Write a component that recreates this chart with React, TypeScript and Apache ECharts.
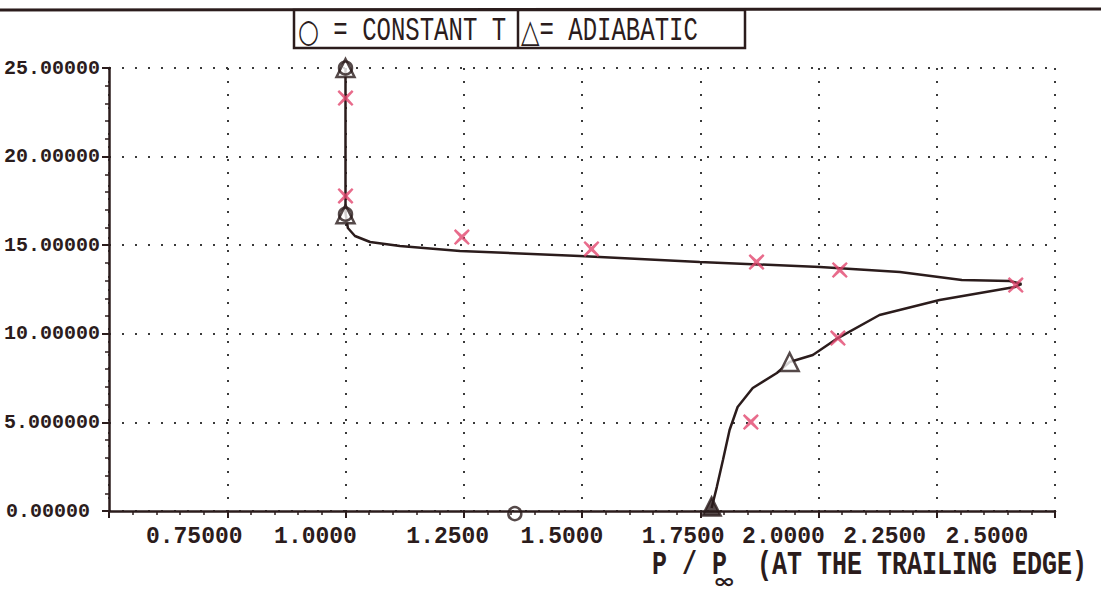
import React, { useEffect, useRef } from "react";
import * as echarts from "echarts";

// Computed curve: p/p_inf along the trailing edge (x) against the plotted quantity (y)
const curveX = [1.0, 1.0, 1.005, 1.02, 1.052, 1.115, 1.242, 1.495, 1.749, 2.003, 2.172, 2.303, 2.404, 2.429,
  2.415, 2.256, 2.129, 2.041, 1.988, 1.939, 1.912, 1.861, 1.829, 1.812, 1.798, 1.785, 1.774];
const curveY = [25.0, 16.82, 15.97, 15.52, 15.18, 14.95, 14.67, 14.39, 14.05, 13.77, 13.49, 13.04, 12.98, 12.81,
  12.64, 11.91, 11.06, 9.76, 8.8, 8.41, 7.79, 6.94, 5.87, 4.57, 2.88, 1.35, 0.17];

// Measured points (crosses)
const crossX = [1.0, 1.0, 1.246, 1.52, 1.869, 2.045, 2.417, 2.041, 1.857];
const crossY = [23.3, 17.78, 15.46, 14.79, 14.05, 13.6, 12.75, 9.76, 5.02];

// Adiabatic wall (triangles)
const triX = [1.0, 1.0, 1.939, 1.774];
const triY = [25.0, 16.75, 8.41, 0.25];

// Constant-temperature wall (circles)
const circX = [1.0, 1.0, 1.358];
const circY = [25.0, 16.75, -0.15];

// Tick labels
const xTickValues = [0.75, 1.0, 1.25, 1.5, 1.75, 2.0, 2.25, 2.5];
const xTickLabels = ["0.75000", "1.0000", "1.2500", "1.5000", "1.7500", "2.0000", "2.2500", "2.5000"];
const yTickValues = [0, 5, 10, 15, 20, 25];
const yTickLabels = ["0.00000", "5.000000", "10.00000", "15.00000", "20.00000", "25.00000"];

// horizontal nudge (px, leftwards) of each x tick label, as the plotter placed them
const xLabelShift = [33, 30, 16, 20, 17, 35, 52, 68];

const INK = "#2b1c1c";
const PINK = "#e2466e";
const MONO = "'Liberation Mono', 'DejaVu Sans Mono', monospace";
const CROSS = "path://M1,0L5,3.6L9,0L10,1L6.4,5L10,9L9,10L5,6.4L1,10L0,9L3.6,5L0,1Z";

export default function App() {
  const ref = useRef<HTMLDivElement>(null);

  useEffect(() => {
    if (!ref.current) return;
    const chart = echarts.init(ref.current, undefined, { renderer: "svg" });

    const xRich: Record<string, any> = {};
    xLabelShift.forEach((s, i) => {
      xRich["s" + i] = {
        fontFamily: MONO,
        fontWeight: "bold",
        fontSize: 23,
        color: INK,
        padding: [0, s * 2, 0, 0],
      };
    });

    const curve = curveX.map((x, i) => [x, curveY[i]]);
    const crosses = crossX.map((x, i) => [x, crossY[i]]);
    const tris = triX.map((x, i) => {
      const item: any = { value: [x, triY[i]] };
      if (triY[i] < 1) item.itemStyle = { color: INK };
      return item;
    });
    const circs = circX.map((x, i) => [x, circY[i]]);

    const legendRich = {
      t: { fontFamily: MONO, fontSize: 24, color: INK },
      c: { fontFamily: "'DejaVu Sans', sans-serif", fontSize: 24, color: INK },
    };

    chart.setOption({
      animation: false,
      backgroundColor: "#ffffff",
      grid: { left: 109, right: 46, top: 68, bottom: 85, containLabel: false, outerBoundsMode: "none" },
      xAxis: {
        type: "value",
        min: 0.5,
        max: 2.5,
        interval: 0.25,
        axisLine: { show: true, onZero: false, lineStyle: { color: INK, width: 2.5 } },
        axisTick: { show: true, length: 7, lineStyle: { color: INK, width: 2 } },
        minorTick: { show: true, splitNumber: 5, length: 4, lineStyle: { color: INK, width: 1.5 } },
        splitLine: { show: true, lineStyle: { color: "#3a3a3a", width: 2, type: [2, 11] } },
        axisLabel: {
          margin: 14,
          formatter: (v: number) => {
            const i = xTickValues.findIndex((t) => Math.abs(t - v) < 1e-6);
            return i < 0 ? "" : "{s" + i + "|" + xTickLabels[i] + "}";
          },
          rich: xRich,
        },
      },
      yAxis: {
        type: "value",
        min: 0,
        max: 25,
        interval: 5,
        axisLine: { show: true, onZero: false, lineStyle: { color: INK, width: 2.5 } },
        axisTick: { show: true, length: 7, lineStyle: { color: INK, width: 2 } },
        minorTick: { show: true, splitNumber: 5, length: 4, lineStyle: { color: INK, width: 1.5 } },
        splitLine: { show: true, lineStyle: { color: "#3a3a3a", width: 2, type: [2, 11] } },
        axisLabel: {
          margin: 9,
          formatter: (v: number) => {
            const i = yTickValues.findIndex((t) => Math.abs(t - v) < 1e-6);
            if (i < 0) return "";
            return (i === 0 ? "{z|" : "{n|") + yTickLabels[i] + "}";
          },
          rich: {
            n: { fontFamily: MONO, fontWeight: "bold", fontSize: 20, color: INK },
            z: { fontFamily: MONO, fontWeight: "bold", fontSize: 20, color: INK, padding: [0, 10, 0, 0] },
          },
        },
      },
      series: [
        {
          type: "line",
          data: curve,
          symbol: "none",
          clip: false,
          lineStyle: { color: INK, width: 2.5 },
          z: 2,
        },
        {
          type: "scatter",
          data: crosses,
          symbol: CROSS,
          symbolSize: 16,
          clip: false,
          itemStyle: { color: PINK },
          z: 4,
        },
        {
          type: "scatter",
          data: tris,
          symbol: "triangle",
          symbolSize: 18,
          clip: false,
          itemStyle: { color: "#ffffff", borderColor: INK, borderWidth: 2.5 },
          z: 3,
        },
        {
          type: "scatter",
          data: circs,
          symbol: "circle",
          symbolSize: 13,
          clip: false,
          itemStyle: { color: "rgba(255,255,255,0)", borderColor: INK, borderWidth: 2.5 },
          z: 3,
        },
      ],
      graphic: [
        // top rule across the sheet
        { type: "line", shape: { x1: 0, y1: 10, x2: 1101, y2: 9 }, style: { stroke: INK, lineWidth: 3 }, z: 10 },
        // legend frame
        {
          type: "rect",
          shape: { x: 294, y: 10, width: 451, height: 38 },
          style: { fill: "#ffffff", stroke: INK, lineWidth: 2.5 },
          z: 10,
        },
        { type: "line", shape: { x1: 518, y1: 10, x2: 518, y2: 48 }, style: { stroke: INK, lineWidth: 2.5 }, z: 11 },
        {
          type: "text",
          x: 298,
          y: 31,
          scaleY: 1.35,
          style: {
            text: "{c|○}{t| = CONSTANT T}",
            rich: legendRich,
            fill: INK,
            verticalAlign: "middle",
            align: "left",
          },
          z: 11,
        },
        {
          type: "text",
          x: 521,
          y: 31,
          scaleY: 1.35,
          style: {
            text: "{c|△}{t|= ADIABATIC}",
            rich: legendRich,
            fill: INK,
            verticalAlign: "middle",
            align: "left",
          },
          z: 11,
        },
        // x axis title: P / P∞ (AT THE TRAILING EDGE)
        {
          type: "text",
          x: 652,
          y: 566,
          scaleY: 1.3,
          style: { text: "P / P", font: "bold 25px " + MONO, fill: INK, verticalAlign: "middle", align: "left" },
          z: 11,
        },
        {
          type: "text",
          x: 713,
          y: 581,
          scaleX: 1.35,
          style: { text: "∞", font: "bold 20px 'DejaVu Sans', sans-serif", fill: INK, verticalAlign: "middle", align: "left" },
          z: 11,
        },
        {
          type: "text",
          x: 757,
          y: 566,
          scaleY: 1.3,
          style: {
            text: "(AT THE TRAILING EDGE)",
            font: "bold 25px " + MONO,
            fill: INK,
            verticalAlign: "middle",
            align: "left",
          },
          z: 11,
        },
      ],
    });

    return () => chart.dispose();
  }, []);

  return (
    <div
      ref={ref}
      style={{ position: "fixed", left: 0, top: 0, width: 1101, height: 596, background: "#ffffff" }}
    />
  );
}
